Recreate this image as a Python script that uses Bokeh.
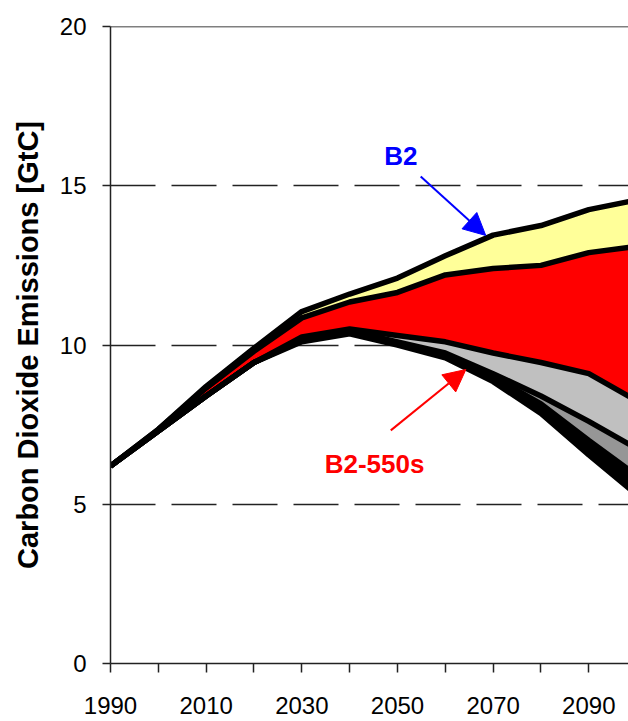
from bokeh.plotting import figure
from bokeh.models import (FixedTicker, Span, Label, Arrow, NormalHead, Range1d)
from bokeh.embed import file_html
from bokeh.resources import INLINE

# ---- data (GtC) ----
years = [1990, 2000, 2010, 2020, 2030, 2040, 2050, 2060, 2070, 2080, 2090, 2100]
b2_top      = [6.2, 7.35, 8.7, 9.9, 11.05, 11.6, 12.1, 12.8, 13.45, 13.75, 14.25, 14.55]
red_top     = [6.2, 7.35, 8.65, 9.8, 10.85, 11.35, 11.65, 12.2, 12.4, 12.5, 12.9, 13.1]
red_bottom  = [6.2, 7.3, 8.4, 9.45, 10.25, 10.5, 10.3, 10.1, 9.75, 9.45, 9.1, 8.25]
light_bottom= [6.2, 7.3, 8.4, 9.45, 10.2, 10.45, 10.1, 9.75, 9.1, 8.4, 7.6, 6.75]
dark_bottom = [6.2, 7.3, 8.4, 9.45, 10.15, 10.4, 10.05, 9.7, 9.0, 8.15, 7.0, 5.9]
lowest      = [6.2, 7.3, 8.4, 9.45, 10.1, 10.35, 10.0, 9.6, 8.85, 7.85, 6.55, 5.3]

x_ticks = [1990, 2000, 2010, 2020, 2030, 2040, 2050, 2060, 2070, 2080, 2090]
x_labels = {1990: "1990", 2010: "2010", 2030: "2030", 2050: "2050", 2070: "2070", 2090: "2090",
            2000: "", 2020: "", 2040: "", 2060: "", 2080: ""}
y_ticks = [0, 5, 10, 15, 20]
grid_ticks = [5, 10, 15]

FONT = "Liberation Sans"

p = figure(width=628, height=721, output_backend="svg", toolbar_location=None,
           x_range=Range1d(1990, 2098.3), y_range=Range1d(0, 20),
           min_border_left=110, min_border_right=0, min_border_top=26, min_border_bottom=58)
p.outline_line_color = None
p.background_fill_color = "white"
p.border_fill_color = "white"

# bands
p.varea(x=years, y1=red_top, y2=b2_top, fill_color="#FFFF99")
p.varea(x=years, y1=red_bottom, y2=red_top, fill_color="#FF0000")
p.varea(x=years, y1=light_bottom, y2=red_bottom, fill_color="#C0C0C0")
p.varea(x=years, y1=dark_bottom, y2=light_bottom, fill_color="#969696")
p.varea(x=years, y1=lowest, y2=dark_bottom, fill_color="black")
for series in [lowest, dark_bottom, light_bottom, red_bottom, red_top, b2_top]:
    p.line(x=years, y=series, line_color="black", line_width=5.5)

# top frame line
p.add_layout(Span(location=20, dimension="width", line_color="black", line_width=1.5))

# axes
p.xaxis.ticker = FixedTicker(ticks=x_ticks)
p.xaxis.major_label_overrides = x_labels
p.yaxis.ticker = FixedTicker(ticks=y_ticks)
p.xaxis.minor_tick_line_color = None
p.yaxis.minor_tick_line_color = None
for ax in (p.xaxis, p.yaxis):
    ax.axis_line_color = "#222222"
    ax.axis_line_width = 1.5
    ax.major_tick_line_color = "#222222"
    ax.major_tick_line_width = 1.5
    ax.major_tick_in = 0
    ax.major_label_text_font = FONT
    ax.major_label_text_font_size = "24px"
    ax.major_label_text_color = "black"
p.xaxis.major_tick_out = 9
p.yaxis.major_tick_out = 8
p.xaxis.major_label_standoff = 24
p.yaxis.major_label_standoff = 16

p.yaxis.axis_label = "Carbon Dioxide Emissions [GtC]"
p.yaxis.axis_label_text_font = FONT
p.yaxis.axis_label_text_font_style = "bold"
p.yaxis.axis_label_text_font_size = "29px"
p.yaxis.axis_label_text_color = "black"
p.yaxis.axis_label_standoff = 13

p.xgrid.grid_line_color = None
p.ygrid.ticker = FixedTicker(ticks=grid_ticks)
p.ygrid.grid_line_color = "#222222"
p.ygrid.grid_line_width = 1.3
p.ygrid.grid_line_dash = "45 16"

# annotations
p.add_layout(Arrow(end=NormalHead(size=22, fill_color="#0000FF", line_color="#0000FF"),
                   x_start=2054.85, y_start=15.29, x_end=2068.45, y_end=13.44,
                   line_color="#0000FF", line_width=2))
p.add_layout(Arrow(end=NormalHead(size=22, fill_color="#FF0000", line_color="#FF0000"),
                   x_start=2048.6, y_start=7.32, x_end=2064.3, y_end=9.23,
                   line_color="#FF0000", line_width=2))
p.add_layout(Label(x=2050.7, y=15.92, text="B2", text_color="#0000FF",
                   text_font=FONT, text_font_style="bold", text_font_size="26px",
                   text_align="center", text_baseline="middle"))
p.add_layout(Label(x=2045.2, y=6.25, text="B2-550s", text_color="#FF0000",
                   text_font=FONT, text_font_style="bold", text_font_size="26px",
                   text_align="center", text_baseline="middle"))

open("out.html", "w").write(file_html(p, INLINE))
